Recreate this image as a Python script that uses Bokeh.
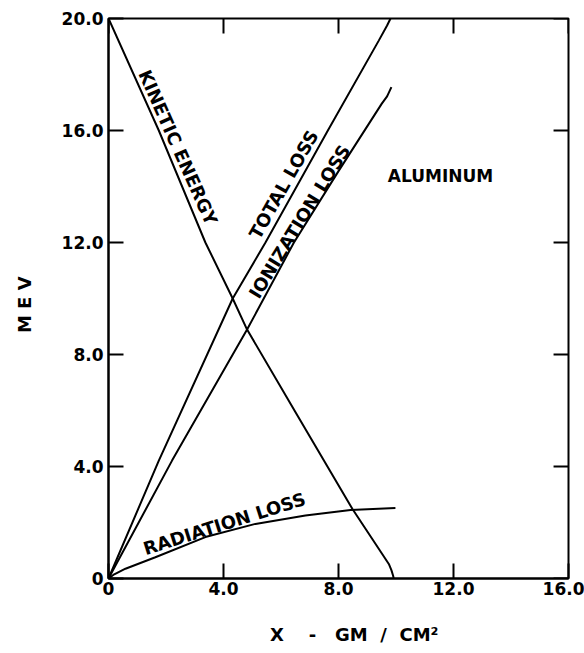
import math
from bokeh.plotting import figure
from bokeh.models import Range1d, FixedTicker, Label
from bokeh.embed import file_html
from bokeh.resources import INLINE

# ---- data ----
x_ticks = [0, 4, 8, 12, 16]
x_tick_labels = ["0", "4.0", "8.0", "12.0", "16.0"]
y_ticks = [0, 4, 8, 12, 16, 20]
y_tick_labels = ["0", "4.0", "8.0", "12.0", "16.0", "20.0"]

kinetic_x = [0, 1.75, 3.37, 4.32, 4.82, 6.5, 8.48, 9.75, 9.84, 9.9, 9.92]
kinetic_y = [20, 16.0, 12.0, 10.0, 8.89, 5.95, 2.49, 0.52, 0.3, 0.1, 0.0]

total_x = [0, 1.75, 4.32, 5.46, 7.63, 9.40, 9.69, 9.81]
total_y = [0, 4.21, 10.0, 12.0, 16.0, 19.21, 19.75, 20.0]

ion_x = [0, 2.21, 4.82, 6.45, 8.0, 9.5, 9.69, 9.84]
ion_y = [0, 4.21, 8.89, 12.0, 14.55, 16.95, 17.22, 17.55]

rad_x = [0, 0.2, 0.59, 1.63, 3.37, 5.11, 6.85, 8.42, 9.98]
rad_y = [0, 0.15, 0.35, 0.76, 1.48, 1.95, 2.25, 2.45, 2.52]

X_MIN, X_MAX = 0, 16
Y_MIN, Y_MAX = 0, 20
TICK_X = 0.52   # inner tick length on the right edge (x units)
TICK_Y = 0.54   # inner tick length on the top edge (y units)

FONT = "DejaVu Sans"
nb = "\u00a0"

p = figure(width=584, height=652, output_backend="svg", toolbar_location=None,
           x_range=Range1d(X_MIN, X_MAX), y_range=Range1d(Y_MIN, Y_MAX),
           min_border_left=108, min_border_right=16, min_border_top=18,
           min_border_bottom=74)
p.grid.visible = False
p.outline_line_color = "black"
p.outline_line_width = 2
p.background_fill_color = "white"
p.border_fill_color = "white"

xa = p.xaxis[0]
ya = p.yaxis[0]
xa.ticker = FixedTicker(ticks=x_ticks)
xa.major_label_overrides = {t: s for t, s in zip(x_ticks, x_tick_labels)}
ya.ticker = FixedTicker(ticks=y_ticks)
ya.major_label_overrides = {t: s for t, s in zip(y_ticks, y_tick_labels)}

for ax in (xa, ya):
    ax.axis_line_width = 2
    ax.axis_line_color = "black"
    ax.major_tick_in = 15
    ax.major_tick_out = 0
    ax.major_tick_line_width = 2
    ax.major_tick_line_color = "black"
    ax.minor_tick_line_color = None
    ax.major_label_text_font = FONT
    ax.major_label_text_font_style = "bold"
    ax.major_label_text_font_size = "17px"
    ax.major_label_text_color = "black"
    ax.axis_label_text_font = FONT
    ax.axis_label_text_font_style = "bold"
    ax.axis_label_text_font_size = "18px"
    ax.axis_label_text_color = "black"

xa.major_label_standoff = 3
ya.major_label_standoff = 5
xa.axis_label = nb * 5 + "X" + nb * 4 + "-" + nb * 3 + "GM" + nb * 2 + "/" + nb * 2 + "CM\u00b2"
xa.axis_label_standoff = 26
ya.axis_label = "M" + nb + "E" + nb + "V" + nb * 2
ya.axis_label_standoff = 24

# inner ticks on the top and right edges, at the same tick values
p.segment(x0=x_ticks, y0=[Y_MAX] * len(x_ticks), x1=x_ticks,
          y1=[Y_MAX - TICK_Y] * len(x_ticks), line_color="black", line_width=2)
p.segment(x0=[X_MAX] * len(y_ticks), y0=y_ticks, x1=[X_MAX - TICK_X] * len(y_ticks),
          y1=y_ticks, line_color="black", line_width=2)

for xs, ys in [(kinetic_x, kinetic_y), (total_x, total_y), (ion_x, ion_y), (rad_x, rad_y)]:
    p.line(xs, ys, line_color="black", line_width=2)

def lab(x, y, text, angle_deg=0.0, size="18px"):
    p.add_layout(Label(x=x, y=y, text=text, angle=math.radians(angle_deg),
                       text_align="center", text_baseline="middle",
                       text_font=FONT, text_font_style="bold",
                       text_font_size=size, text_color="black"))

lab(2.42, 15.4, "KINETIC ENERGY", -66)
lab(6.09, 14.07, "TOTAL LOSS", 60.6)
lab(6.64, 12.75, "IONIZATION LOSS", 58.5)
lab(4.03, 1.96, "RADIATION LOSS", 17.5)
lab(11.55, 14.39, "ALUMINUM", 0, "17px")

open("out.html", "w").write(file_html(p, INLINE))
